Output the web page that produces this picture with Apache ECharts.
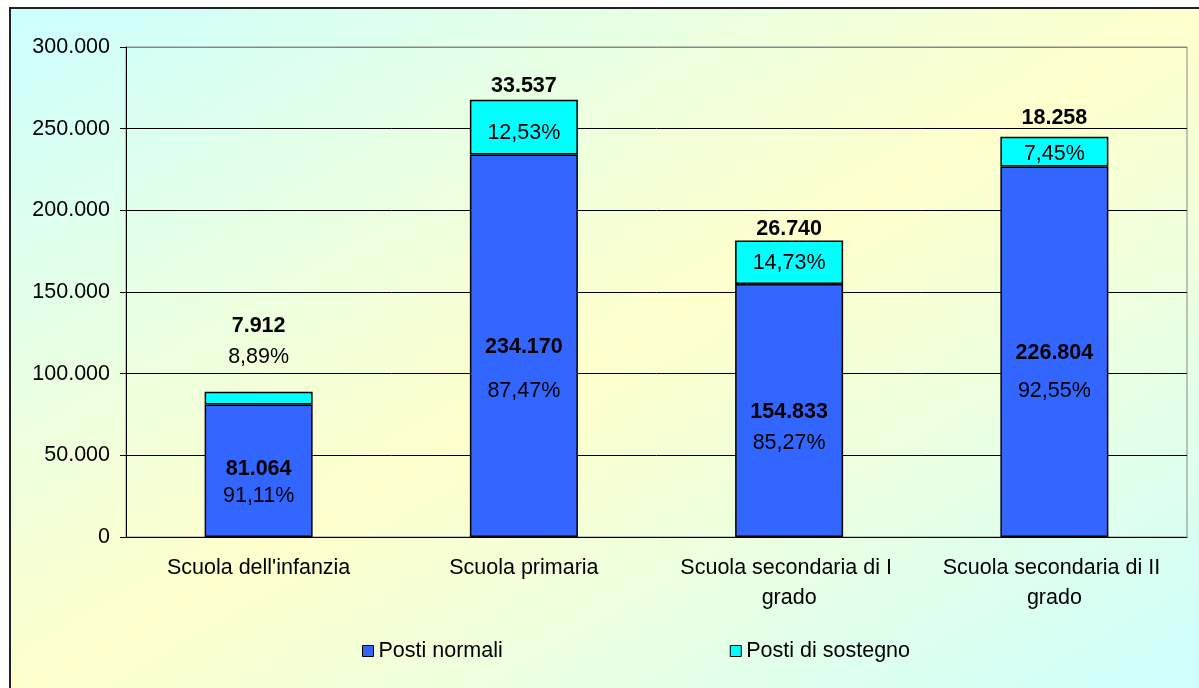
<!DOCTYPE html>
<html>
<head>
<meta charset="utf-8">
<script src="https://cdn.jsdelivr.net/npm/echarts@6/dist/echarts.min.js"></script>
<style>
  html, body { margin: 0; padding: 0; background: #fff; }
  .frame {
    position: absolute; left: 9px; top: 7px; width: 1200px; height: 690px;
    border: 2px solid #222;
    background: linear-gradient(to bottom right, #ccffff 0%, #ffffcc 50%, #ccffff 100%);
  }
  #chart { position: absolute; left: 0; top: 0; width: 1199px; height: 688px; }
</style>
</head>
<body>
<div class="frame"></div>
<div id="chart"></div>
<script>
  // dati
  var categories = ["Scuola dell'infanzia", 'Scuola primaria', 'Scuola secondaria di I grado', 'Scuola secondaria di II grado'];
  var postiNormali = [81064, 234170, 154833, 226804];
  var postiSostegno = [7912, 33537, 26740, 18258];
  var seriesNames = ['Posti normali', 'Posti di sostegno'];

  // posizione etichette (solo stile): spostamento e interlinea
  var normaliLabelShift = [12, 23, 17, 20];
  var normaliLabelGap = [27, 44, 31, 38];
  var sostegnoLabelShift = [-57, -18, -16, -16];
  var sostegnoLabelGap = [31, 47, 34, 36];

  var FONT = "'Liberation Sans', Arial, sans-serif";
  var FS = 21.5;

  function fmtInt(v) {
    return String(v).replace(/\B(?=(\d{3})+(?!\d))/g, '.');
  }
  function fmtPct(v, tot) {
    return (v / tot * 100).toFixed(2).replace('.', ',') + '%';
  }
  function richFor(gap) {
    return {
      v: { fontFamily: FONT, fontSize: FS, fontWeight: 'bold', color: '#000', lineHeight: gap },
      p: { fontFamily: FONT, fontSize: FS, color: '#000', lineHeight: gap }
    };
  }

  var option = {
    backgroundColor: 'transparent',
    animation: false,
    textStyle: { fontFamily: FONT, color: '#000' },
    grid: {
      left: 126, right: 12, top: 47, bottom: 151,
      show: true, borderColor: '#888', borderWidth: 1, backgroundColor: 'transparent'
    },
    legend: {
      left: 357, top: 635,
      icon: 'rect', itemWidth: 11, itemHeight: 11, itemGap: 227,
      textStyle: { fontFamily: FONT, fontSize: FS, color: '#000' },
      itemStyle: { borderColor: '#000', borderWidth: 1 },
      data: seriesNames
    },
    xAxis: {
      type: 'category',
      data: categories,
      axisLine: { lineStyle: { color: '#000', width: 1 } },
      axisTick: { length: 6, lineStyle: { color: '#000' } },
      axisLabel: {
        fontFamily: FONT, fontSize: FS, color: '#000', margin: 16,
        lineHeight: 30, width: 225, overflow: 'break', interval: 0
      }
    },
    yAxis: {
      type: 'value',
      min: 0, max: 300000, interval: 50000,
      axisLine: { show: true, lineStyle: { color: '#000', width: 1 } },
      axisTick: { show: true, length: 6, lineStyle: { color: '#000' } },
      axisLabel: {
        fontFamily: FONT, fontSize: FS, color: '#000', margin: 16,
        formatter: function (v) { return fmtInt(v); }
      },
      splitLine: {
        lineStyle: { color: ['#000', '#000', '#000', '#000', '#000', '#000', '#888'], width: 1 }
      }
    },
    series: [
      {
        name: seriesNames[0],
        type: 'bar',
        stack: 'posti',
        barWidth: 108,
        itemStyle: { color: '#3366ff', borderColor: '#000', borderWidth: 1.5 },
        label: {
          show: true, position: 'inside', align: 'center', rich: richFor(34),
          formatter: function (p) {
            var i = p.dataIndex;
            var tot = postiNormali[i] + postiSostegno[i];
            return '{v|' + fmtInt(postiNormali[i]) + '}\n{p|' + fmtPct(postiNormali[i], tot) + '}';
          }
        },
        data: postiNormali.map(function (v, i) {
          return { value: v, label: { offset: [0, normaliLabelShift[i]], rich: richFor(normaliLabelGap[i]) } };
        })
      },
      {
        name: seriesNames[1],
        type: 'bar',
        stack: 'posti',
        barWidth: 108,
        itemStyle: { color: '#00ffff', borderColor: '#000', borderWidth: 1.5 },
        label: {
          show: true, position: 'inside', align: 'center', rich: richFor(34),
          formatter: function (p) {
            var i = p.dataIndex;
            var tot = postiNormali[i] + postiSostegno[i];
            return '{v|' + fmtInt(postiSostegno[i]) + '}\n{p|' + fmtPct(postiSostegno[i], tot) + '}';
          }
        },
        data: postiSostegno.map(function (v, i) {
          return { value: v, label: { offset: [0, sostegnoLabelShift[i]], rich: richFor(sostegnoLabelGap[i]) } };
        })
      }
    ]
  };

  var myChart = echarts.init(document.getElementById('chart'), null, { renderer: 'canvas' });
  myChart.setOption(option);
</script>
</body>
</html>
